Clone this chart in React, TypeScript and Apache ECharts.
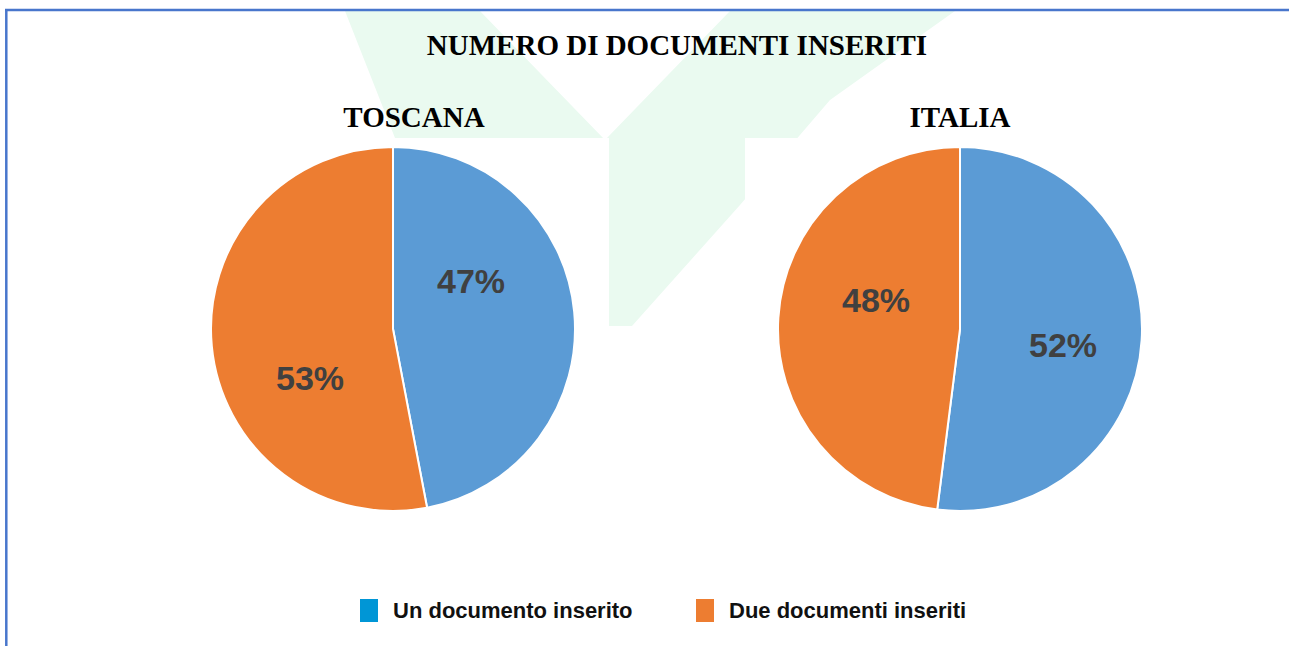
import React, { useEffect, useRef } from "react";
import * as echarts from "echarts";

// ---- data ----
const categories = ["Un documento inserito", "Due documenti inseriti"];
const toscanaValues = [47, 53];
const italiaValues = [52, 48];
const regionTitles = ["TOSCANA", "ITALIA"];
const mainTitle = "NUMERO DI DOCUMENTI INSERITI";

// ---- styles / layout ----
const pieColors = ["#5b9bd5", "#ed7d31"];
const legendColors = ["#0096d6", "#ed7d31"];
const centers: [number, number][] = [
  [393, 329],
  [960, 329],
];
const radius = 182;
const labelOffsets: [number, number][][] = [
  [
    [78, -48],
    [-83, 49],
  ],
  [
    [103, 16],
    [-84, -29],
  ],
];
const legendLefts = [353, 689];

export default function App() {
  const ref = useRef<HTMLDivElement>(null);

  useEffect(() => {
    document.body.style.margin = "0";
    if (!ref.current) return;
    const chart = echarts.init(ref.current, undefined, { renderer: "svg" });

    const makeSeries = (values: number[], idx: number) => ({
      type: "pie",
      name: regionTitles[idx],
      center: centers[idx],
      radius: radius,
      startAngle: 90,
      clockwise: true,
      silent: true,
      z: 5,
      itemStyle: { borderColor: "#ffffff", borderWidth: 2 },
      label: {
        show: true,
        position: "inside",
        formatter: "{d}%",
        color: "#404040",
        fontFamily: "Liberation Sans, Arial, sans-serif",
        fontWeight: "bold",
        fontSize: 34,
      },
      labelLine: { show: false },
      labelLayout: (p: any) => {
        const o = labelOffsets[idx][p.dataIndex];
        return {
          x: centers[idx][0] + o[0],
          y: centers[idx][1] + o[1],
          align: "center",
          verticalAlign: "middle",
        };
      },
      emphasis: { disabled: true },
      data: categories.map((name, i) => ({
        name,
        value: values[i],
        itemStyle: { color: pieColors[i] },
      })),
    });

    const serifFont = "Liberation Serif, Times New Roman, serif";

    chart.setOption({
      animation: false,
      backgroundColor: "#ffffff",
      legend: categories.map((name, i) => ({
        data: [{ name, itemStyle: { color: legendColors[i] } }],
        left: legendLefts[i],
        top: 592,
        itemWidth: 20,
        itemHeight: 25,
        icon: "rect",
        selectedMode: false,
        textStyle: {
          fontFamily: "Liberation Sans, Arial, sans-serif",
          fontWeight: "bold",
          fontSize: 22,
          color: "#111111",
          padding: [0, 0, 0, 9],
        },
      })),
      graphic: [
        {
          type: "polygon",
          z: 0,
          silent: true,
          shape: {
            points: [
              [345, 11],
              [480, 11],
              [605, 140],
              [730, 11],
              [955, 11],
              [830, 100],
              [740, 205],
              [632, 326],
              [600, 326],
              [395, 138],
            ],
          },
          style: { fill: "#eafaf0" },
        },
        {
          type: "rect",
          z: 0,
          silent: true,
          shape: { x: 7, y: 138, width: 602, height: 508 },
          style: { fill: "#ffffff" },
        },
        {
          type: "rect",
          z: 0,
          silent: true,
          shape: { x: 745, y: 138, width: 544, height: 508 },
          style: { fill: "#ffffff" },
        },
        {
          type: "line",
          z: 1,
          silent: true,
          shape: { x1: 5, y1: 10, x2: 1289, y2: 10 },
          style: { stroke: "#4876cc", lineWidth: 2.5 },
        },
        {
          type: "line",
          z: 1,
          silent: true,
          shape: { x1: 6.3, y1: 9, x2: 6.3, y2: 646 },
          style: { stroke: "#4876cc", lineWidth: 2.5 },
        },
        {
          type: "text",
          z: 10,
          x: 677,
          y: 45,
          style: {
            text: mainTitle,
            fill: "#000000",
            font: `bold 29px ${serifFont}`,
            textAlign: "center",
            textVerticalAlign: "middle",
          },
        },
        ...regionTitles.map((t, i) => ({
          type: "text",
          z: 10,
          x: i === 0 ? 414 : 960,
          y: 117,
          style: {
            text: t,
            fill: "#000000",
            font: `bold 29px ${serifFont}`,
            textAlign: "center",
            textVerticalAlign: "middle",
          },
        })),
      ],
      series: [makeSeries(toscanaValues, 0), makeSeries(italiaValues, 1)],
    });

    return () => chart.dispose();
  }, []);

  return <div ref={ref} style={{ width: 1289, height: 646 }} />;
}
